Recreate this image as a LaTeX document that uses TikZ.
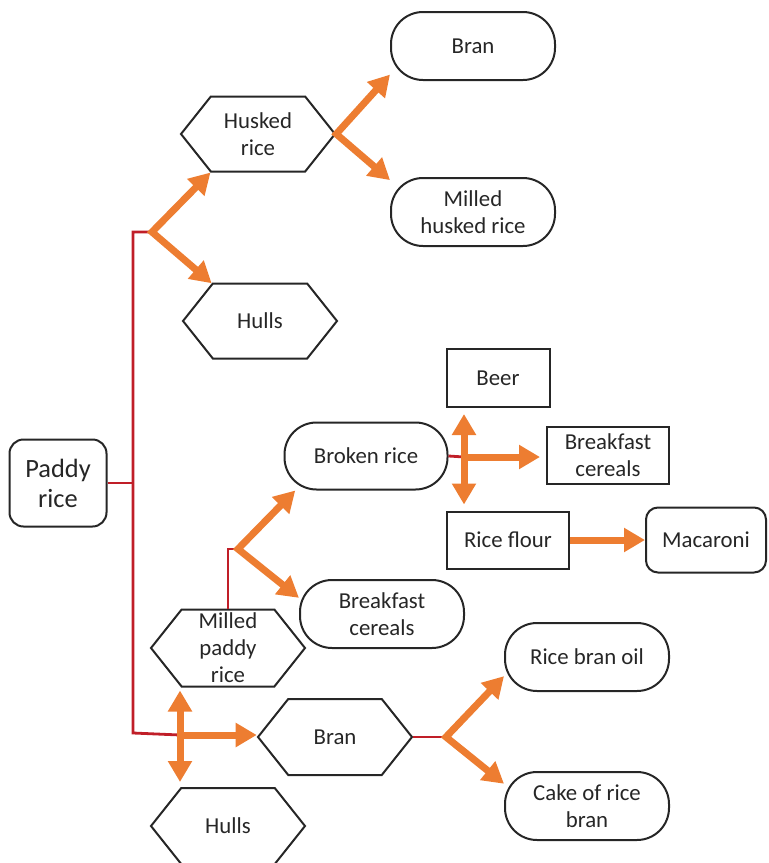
\documentclass[tikz,border=0pt]{standalone}
\usepackage{fontspec}
\setmainfont{Carlito}
\usetikzlibrary{shapes.symbols,arrows.meta}
\definecolor{boxline}{RGB}{38,38,38}
\definecolor{flowred}{RGB}{192,30,40}
\definecolor{floworange}{RGB}{237,125,49}

\begin{document}
\begin{tikzpicture}
        [
        x=0.5pt, y=-0.5pt,
        every node/.style={font=\fontsize{11.4}{13.5}\selectfont, text=boxline, align=center},
        hexa/.style={draw=boxline, line width=1pt, signal, signal to=west and east, signal pointer angle=103, minimum width=77pt, minimum height=37.5pt, inner sep=0pt},
        pill/.style={draw=boxline, line width=1pt, rounded corners=16pt, minimum width=82pt, minimum height=34pt, inner sep=2pt},
        plainbox/.style={draw=boxline, line width=1pt, minimum width=61pt, minimum height=28.5pt, inner sep=2pt},
        redlink/.style={draw=flowred, line width=1.4pt},
        flow/.style={draw=floworange, line width=3.5pt, -{Triangle[width=11.5pt,length=10.5pt]}},
        twoway/.style={flow, {Triangle[width=11.5pt,length=10.5pt]}-{Triangle[width=11.5pt,length=10.5pt]}},
        ]
        \useasboundingbox (0,0) rectangle (768,863);

        % main stages
        \node[draw=boxline, line width=1pt, rounded corners=7pt, minimum width=48.5pt, minimum height=43.5pt, font=\fontsize{13.2}{15}\selectfont] (paddy) at (58,483) {Paddy\\rice};
        \node[hexa] (husked) at (258,134) {Husked\\rice};
        \node[hexa] (hulls) at (260,321) {Hulls};
        \node[pill] (bran) at (473,46) {Bran};
        \node[pill] (milledhusked) at (473,212) {Milled\\husked rice};
        \node[pill, minimum width=81.5pt, minimum height=33.5pt] (broken) at (366,456) {Broken rice};
        \node[plainbox, minimum width=51.5pt, minimum height=29pt] (beer) at (498,378) {Beer};
        \node[plainbox] (cereals) at (608,455) {Breakfast\\cereals};
        \node[plainbox] (flour) at (508,540) {Rice flour};
        \node[pill, rounded corners=6pt, minimum width=60pt, minimum height=32.5pt] (macaroni) at (706,540) {Macaroni};
        \node[hexa, minimum height=38.5pt, label={center:Milled\\paddy\\rice}] (milledpaddy) at (228,648) {};
        \node[pill] (breakfast) at (382,614) {Breakfast\\cereals};
        \node[hexa, minimum height=38pt] (branhex) at (335,737) {Bran};
        \node[hexa, minimum height=38pt] (hullsb) at (228,826) {Hulls};
        \node[pill] (oil) at (587,657) {Rice bran oil};
        \node[pill] (cake) at (587,806) {Cake of rice\\bran};

        % branching points
        \coordinate (split1) at (152,232);
        \coordinate (split2) at (238,549);
        \coordinate (split3) at (446,737);
        \coordinate (cross1) at (464,457);
        \coordinate (cross2) at (180,735);
        \coordinate (trunktop) at (133,232);
        \coordinate (trunkbot) at (133,733);

        % red links
        \draw[redlink] (split1) -- (trunktop) -- (trunkbot) -- (cross2);
        \draw[redlink] (paddy.east) -- (paddy.east -| trunktop);
        \draw[redlink] (milledpaddy.north) |- (split2);
        \draw[redlink] (broken.east) -- (cross1);
        \draw[redlink] (branhex.east) -- (split3);

        % orange arrows
        \draw[twoway] (husked.219) -- (split1) -- (hulls.142);
        \draw[twoway] (bran.199) -- (husked.east) -- (milledhusked.159);
        \draw[twoway] (broken.206) -- (split2) -- (breakfast.169);
        \draw[twoway] (oil.193) -- (split3) -- (cake.165);
        \draw[twoway, shorten <=3pt, shorten >=3pt] (cross1 |- beer.south) -- (cross1 |- flour.north);
        \draw[flow, shorten >=3pt] (cross1) -- (cross1 -| cereals.west);
        \draw[flow] (flour.east) -- (macaroni.west);
        \draw[twoway, shorten <=1.5pt, shorten >=2.5pt] (cross2 |- milledpaddy.south) -- (cross2 |- hullsb.north);
        \draw[flow] (cross2) -- (cross2 -| branhex.west);
\end{tikzpicture}
\end{document}
